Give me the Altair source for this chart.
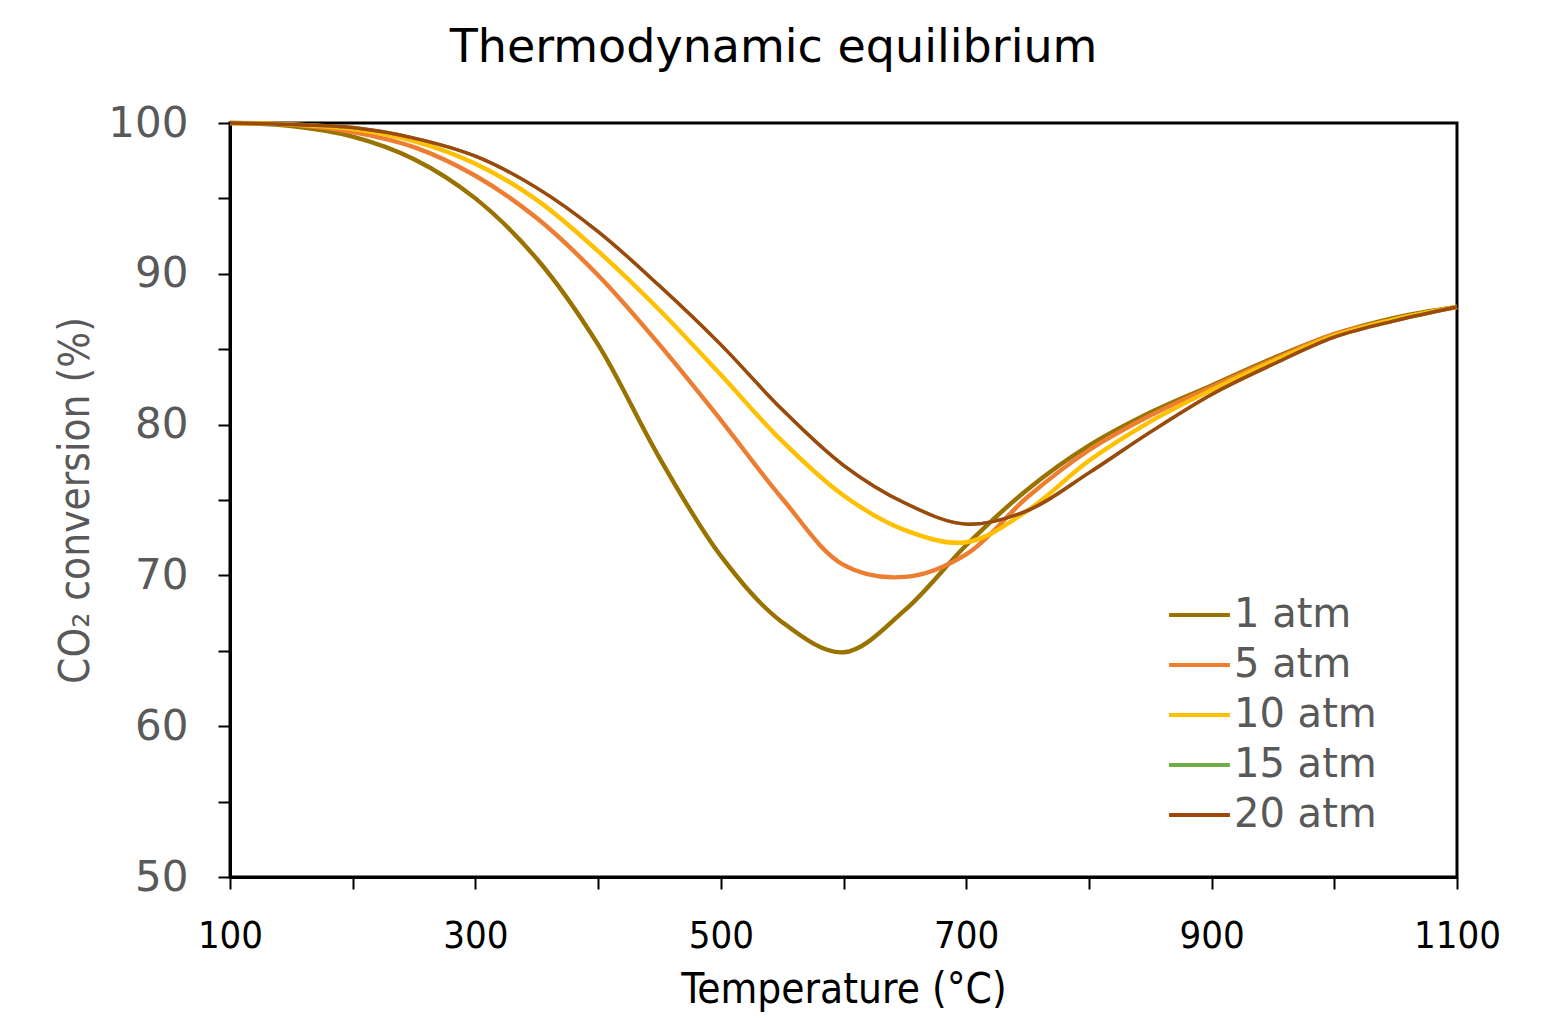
import altair as alt
import pandas as pd

temps = [100, 150, 200, 250, 300, 350, 400, 450, 500, 550, 600, 650, 700, 750, 800, 850, 900, 950, 1000, 1050, 1100]
atm1 = [100, 99.8, 99.1, 97.6, 95.0, 91.0, 85.3, 77.8, 71.3, 66.9, 64.9, 67.7, 72.0, 75.7, 78.6, 80.8, 82.6, 84.4, 86.0, 87.1, 87.8]
atm5 = [100, 99.9, 99.4, 98.4, 96.5, 93.7, 89.9, 85.3, 80.3, 75.1, 70.7, 69.9, 71.4, 75.2, 78.3, 80.6, 82.5, 84.3, 86.0, 87.0, 87.8]
atm10 = [100, 99.9, 99.6, 98.8, 97.3, 94.9, 91.5, 87.6, 83.3, 78.9, 75.3, 73.0, 72.2, 74.3, 77.6, 80.2, 82.3, 84.2, 85.9, 87.0, 87.8]
atm15 = [100, 99.9, 99.7, 99.0, 97.8, 95.7, 92.8, 89.2, 85.3, 81.0, 77.3, 74.8, 73.4, 74.3, 76.8, 79.5, 82.0, 84.0, 85.8, 86.9, 87.8]
atm20 = [100, 99.9, 99.7, 99.0, 97.8, 95.7, 92.8, 89.2, 85.3, 81.0, 77.3, 74.8, 73.4, 74.3, 76.8, 79.5, 82.0, 84.0, 85.8, 86.9, 87.8]

series_names = ["1 atm", "5 atm", "10 atm", "15 atm", "20 atm"]
series_vals = [atm1, atm5, atm10, atm15, atm20]
colors = ["#997300", "#ED7D31", "#FFC000", "#70AD47", "#9E480E"]
widths = [4.4, 4.4, 4.4, 3.4, 3.4]

rows = []
for name, vals, w in zip(series_names, series_vals, widths):
    for t, v in zip(temps, vals):
        rows.append({"T": t, "v": v, "s": name, "w": w})
df = pd.DataFrame(rows)

y_ticks = list(range(50, 101, 5))
x_ticks = list(range(100, 1101, 100))

chart = alt.Chart(df).mark_line(interpolate="catmull-rom").encode(
    x=alt.X("T:Q", scale=alt.Scale(domain=[100, 1100], nice=False),
            axis=alt.Axis(title="Temperature (°C)", values=x_ticks,
                          labelExpr="(datum.value - 100) % 200 == 0 ? datum.label : ''",
                          format="d", grid=False, tickSize=12, tickWidth=2, tickColor="black",
                          domainColor="black", domainWidth=3, labelFlush=False,
                          labelFont="DejaVu Sans Condensed", labelFontSize=38, labelColor="black",
                          labelPadding=28,
                          titleFont="DejaVu Sans Condensed", titleFontSize=42, titleColor="black",
                          titleFontWeight="normal", titlePadding=14)),
    y=alt.Y("v:Q", scale=alt.Scale(domain=[50, 100], nice=False),
            axis=alt.Axis(title="CO₂ conversion (%)", values=y_ticks,
                          labelExpr="datum.value % 10 == 0 ? datum.label : ''",
                          grid=False, tickSize=12, tickWidth=2, tickColor="black",
                          domainColor="black", domainWidth=3,
                          labelFont="DejaVu Sans", labelFontSize=42, labelColor="#595959",
                          labelPadding=30,
                          titleFont="DejaVu Sans Condensed", titleFontSize=42, titleColor="#595959",
                          titleFontWeight="normal", titlePadding=10)),
    color=alt.Color("s:N", scale=alt.Scale(domain=series_names, range=colors),
                    legend=alt.Legend(title=None, orient="none", legendX=937, legendY=467,
                                      symbolType="stroke", symbolSize=3700, symbolStrokeWidth=4,
                                      labelFont="DejaVu Sans", labelFontSize=40, labelColor="#595959",
                                      labelOffset=2, rowPadding=0, clipHeight=50, padding=0)),
    strokeWidth=alt.StrokeWidth("w:Q", scale=None, legend=None),
    order=alt.Order("T:Q"),
).properties(
    width=1227, height=754,
    title=alt.TitleParams("Thermodynamic equilibrium", font="DejaVu Sans", fontSize=46,
                          fontWeight="normal", color="black", anchor="middle", offset=30, dx=-70),
    autosize=alt.AutoSizeParams(type="none"),
    padding={"left": 222, "top": 115, "right": 90, "bottom": 138},
).configure_view(stroke="black", strokeWidth=3)

chart.save("out.html", embed_options={"renderer": "svg", "actions": False})
